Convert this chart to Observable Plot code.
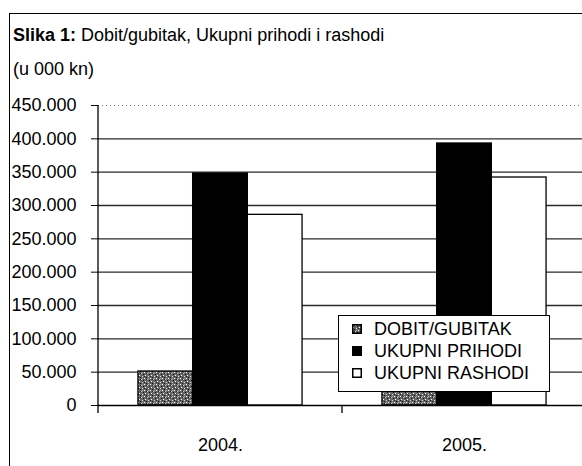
<!DOCTYPE html>
<html><head><meta charset="utf-8">
<script src="https://cdn.jsdelivr.net/npm/d3@7"></script>
<script src="https://cdn.jsdelivr.net/npm/@observablehq/plot@0.6"></script>
<style>
body{margin:0;background:#fff;}
#wrap{position:relative;width:582px;height:466px;overflow:hidden;font-family:"Liberation Sans",Arial,sans-serif;color:#000;}
#frame{position:absolute;left:9px;top:13px;width:600px;height:480px;border-top:1.5px solid #000;border-left:1.5px solid #000;}
.ttl{position:absolute;left:13px;font-size:18px;line-height:18px;white-space:nowrap;}
#chart{position:absolute;left:0;top:0;}
#legend{position:absolute;left:338px;top:315px;width:212px;height:77px;box-sizing:border-box;border:1.5px solid #000;background:#fff;padding:2px 0 0 13px;font-size:18px;line-height:22px;}
#legend .row{display:flex;align-items:center;white-space:nowrap;}
#legend svg{margin-right:12px;}
</style></head>
<body>
<svg width="0" height="0" style="position:absolute">
  <defs>
    <pattern id="stipple" width="6" height="6" patternUnits="userSpaceOnUse">
      <rect width="6" height="6" fill="#666"/>
      <rect x="0" y="0" width="1" height="1" fill="#fff"/>
      <rect x="3" y="1" width="1" height="1" fill="#ccc"/>
      <rect x="1" y="3" width="1" height="1" fill="#fff"/>
      <rect x="4" y="4" width="1" height="1" fill="#ddd"/>
      <rect x="2" y="5" width="1" height="1" fill="#111"/>
      <rect x="5" y="2" width="1" height="1" fill="#111"/>
      <rect x="2" y="1" width="1" height="1" fill="#222"/>
      <rect x="4" y="0" width="1" height="1" fill="#aaa"/>
      <rect x="0" y="4" width="1" height="1" fill="#222"/>
    </pattern>
  </defs>
</svg>
<div id="wrap">
  <div id="frame"></div>
  <div class="ttl" style="top:26px"><b>Slika 1:</b> Dobit/gubitak, Ukupni prihodi i rashodi</div>
  <div class="ttl" style="top:60px">(u 000 kn)</div>
  <div id="chart"></div>
  <div id="legend"></div>
</div>
<script>
const years = ["2004.", "2005."];
const seriesNames = ["DOBIT/GUBITAK", "UKUPNI PRIHODI", "UKUPNI RASHODI"];
const dobit = [51000, 41000];
const prihodi = [348000, 393000];
const rashodi = [286000, 342000];
const yTicks = [0, 50000, 100000, 150000, 200000, 250000, 300000, 350000, 400000, 450000];
const fills = ["url(#stipple)", "#000", "#fff"];

const seriesValues = [dobit, prihodi, rashodi];
const data = [];
years.forEach((yr, i) => seriesNames.forEach((s, j) => data.push({year: yr, series: s, value: seriesValues[j][i]})));

const fmt = d => d === 0 ? "0" : d3.format(",")(d).replace(/,/g, ".");

const plot = Plot.plot({
  width: 582, height: 466,
  marginLeft: 98, marginRight: -4, marginTop: 105, marginBottom: 61,
  style: {fontSize: "18px", fontFamily: "'Liberation Sans', Arial, sans-serif", color: "#000", background: "transparent", overflow: "hidden"},
  fx: {domain: years, padding: 0, axis: "bottom", tickSize: 0, tickPadding: 33, label: null},
  x: {domain: seriesNames, axis: null, paddingInner: 0, paddingOuter: 0.73, round: false},
  y: {domain: [0, 450000], ticks: yTicks, tickFormat: fmt, tickSize: 7, tickPadding: 15, label: null},
  color: {domain: seriesNames, range: fills},
  marks: [
    Plot.ruleY(yTicks.filter(t => t > 0 && t < 450000), {stroke: "#2a2a2a", strokeWidth: 1.4}),
    Plot.ruleY([450000], {stroke: "#777", strokeWidth: 1, strokeDasharray: "1,3"}),
    Plot.barY(data, {fx: "year", x: "series", y: "value", fill: "series", stroke: "#000", strokeWidth: 1.3}),
    Plot.ruleY([0], {stroke: "#000", strokeWidth: 1.3})
  ]
});
document.getElementById("chart").appendChild(plot);

// axis line and category boundary ticks, positioned via the plot's own scales
const fxS = plot.scale("fx"), yS = plot.scale("y");
const yv = v => yS.apply ? yS.apply(v) : (yS.range[0] + (v - yS.domain[0]) / (yS.domain[1] - yS.domain[0]) * (yS.range[1] - yS.range[0]));
const [r0, r1] = fxS.range;
const step = (r1 - r0) / years.length;
const g = d3.select(plot).append("g").attr("stroke", "#000").attr("stroke-width", 1.3);
const y0 = yv(0), yTop = yv(450000);
g.append("line").attr("x1", r0).attr("x2", r0).attr("y1", yTop).attr("y2", y0 + 8);
for (let i = 1; i <= years.length; i++) {
  g.append("line").attr("x1", r0 + i * step).attr("x2", r0 + i * step).attr("y1", y0).attr("y2", y0 + 8);
}

// legend
const leg = d3.select("#legend");
seriesNames.forEach((s, i) => {
  const row = leg.append("div").attr("class", "row");
  const sw = row.append("svg").attr("width", 10).attr("height", 10);
  sw.append("rect").attr("x", 0.75).attr("y", 0.75).attr("width", 8.5).attr("height", 8.5)
    .attr("fill", fills[i]).attr("stroke", "#000").attr("stroke-width", 1.5);
  row.append("span").text(s);
});
</script>
</body></html>
